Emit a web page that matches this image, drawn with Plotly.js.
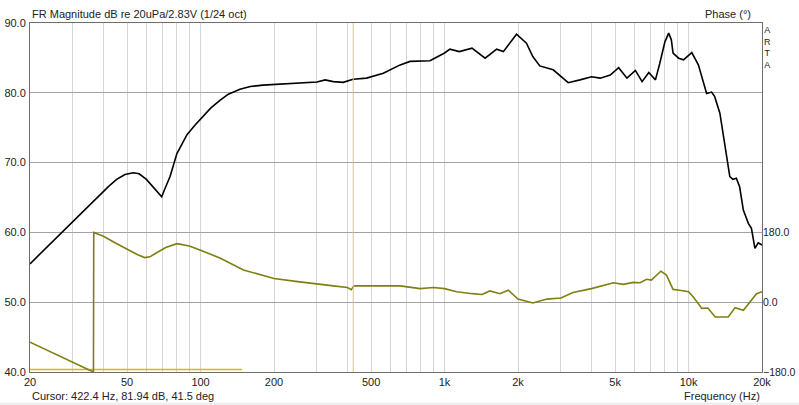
<!DOCTYPE html>
<html>
<head>
<meta charset="utf-8">
<script src="https://cdn.plot.ly/plotly-3.0.1.min.js"></script>
<style>html,body{margin:0;padding:0;background:#fff;}#chart{width:799px;height:405px;}</style>
</head>
<body>
<div id="chart"></div>
<script>
// Magnitude response (dB)
const freqMag = [20,23,26.5,31,35,39,42,45.3,49,53,56,60,64,67,69.3,71.5,75,80,88,95,100,110,120,130,145,160,180,200,256,300,324,350,384,422,479,561,658,722,872,1000,1052,1150,1296,1466,1636,1742,1972,2166,2300,2456,2788,3212,3592,4000,4346,4776,5170,5592,6054,6450,6870,7316,7620,8000,8290,8500,8640,9108,9540,10000,10310,10970,11200,11860,12430,12800,13440,14100,14760,15200,15700,16200,16770,17580,18100,18710,19300,20000];
const magDb   = [55.5,57.6,59.7,62.0,63.9,65.4,66.6,67.6,68.3,68.55,68.4,67.6,66.5,65.6,65.1,66.3,68.0,71.3,74.0,75.4,76.2,77.8,78.9,79.8,80.5,80.9,81.1,81.2,81.4,81.55,81.85,81.6,81.5,81.95,82.1,82.8,84.0,84.5,84.6,85.7,86.25,85.9,86.4,84.95,86.25,85.9,88.4,87.1,85.2,83.85,83.3,81.45,81.85,82.3,82.1,82.55,83.6,82.1,83.2,81.6,82.9,81.85,84.2,87.3,88.55,87.6,85.7,84.96,84.72,85.3,85.77,84.0,82.9,79.9,80.1,79.45,77.07,72.3,68.0,67.6,67.75,66.5,63.2,61.3,60.6,57.7,58.5,58.2];

// Phase response (deg)
const freqPhase = [20,25,30,36.4,36.5,40,45,50,55,59,62,65,72,80,90,100,120,150,200,250,300,350,400,415,425,500,600,658,794,900,1000,1122,1300,1424,1534,1686,1824,2000,2300,2630,3000,3360,4000,4920,5400,5940,6330,6730,7040,7700,8120,8640,9180,10000,10440,11340,12000,12860,14540,15520,16780,17840,19000,20000];
const phaseDeg  = [-103,-131,-155,-180,180,170,152,136,123,115,117,125,141,151,145,134,114,83,61,53,48,42,38,32,42,42,42,42,35,38,35,27,22,20,29,22,31,8,-2,8,11,25,35,50,46,51,50,59,57,80,70,33,31,27,14,-16,-15,-38,-38,-14,-21,0,22,27];

// Marker line (time window) and cursor
const markFreq = [20, 148];
const markDb = [40.35, 40.35];
const cursorFreq = 422.4;

// Axis labels
const xTickVals = [20,50,100,200,500,1000,2000,5000,10000,20000];
const xTickText = ['20','50','100','200','500','1k','2k','5k','10k','20k'];
const xMinorGrid = [30,40,60,70,80,90,300,400,600,700,800,900,3000,4000,6000,7000,8000,9000];
const xMajorGrid = [100,1000,10000];
const yTickVals = [40,50,60,70,80,90];
const y2TickVals = [-180,0,180];

const font = 'Liberation Sans, Arial, sans-serif';

const traces = [
  {x: markFreq, y: markDb, mode: 'lines', line: {color: '#c9c200', width: 1.5}, hoverinfo: 'skip'},
  {x: freqPhase, y: phaseDeg, yaxis: 'y2', mode: 'lines', line: {color: '#7f7f12', width: 1.6}, hoverinfo: 'skip'},
  {x: freqMag, y: magDb, mode: 'lines', line: {color: '#000000', width: 1.6}, hoverinfo: 'skip'}
];

const shapes = xMajorGrid.map(f => ({type: 'line', xref: 'x', yref: 'paper', x0: f, x1: f, y0: 0, y1: 1, layer: 'between', line: {color: '#a3a3a3', width: 1}}));
shapes.push({type: 'line', xref: 'x', yref: 'paper', x0: cursorFreq, x1: cursorFreq, y0: 0, y1: 1, layer: 'above', line: {color: '#d2d25a', width: 1}});
shapes.push({type: 'rect', xref: 'paper', yref: 'paper', x0: -0.05, x1: 1.06, y0: -0.088, y1: -0.097, layer: 'below', fillcolor: '#eeeeee', line: {width: 0}});

const annotations = [
  {text: 'FR Magnitude dB re 20uPa/2.83V (1/24 oct)', xref: 'paper', yref: 'paper', x: 0, y: 1, xanchor: 'left', yanchor: 'bottom', yshift: 1, showarrow: false, font: {family: font, size: 11, color: '#222'}},
  {text: 'Phase (°)', xref: 'paper', yref: 'paper', x: 1, y: 1, xanchor: 'right', yanchor: 'bottom', xshift: -9, yshift: 1, showarrow: false, font: {family: font, size: 11, color: '#222'}},
  {text: 'Cursor: 422.4 Hz, 81.94 dB, 41.5 deg', xref: 'paper', yref: 'paper', x: 0, y: 0, xanchor: 'left', yanchor: 'top', yshift: -16, showarrow: false, font: {family: font, size: 11, color: '#222'}},
  {text: 'Frequency (Hz)', xref: 'paper', yref: 'paper', x: 1, y: 0, xanchor: 'right', yanchor: 'top', yshift: -16, showarrow: false, font: {family: font, size: 11, color: '#222'}},
  {text: 'A<br>R<br>T<br>A', xref: 'paper', yref: 'paper', x: 1, y: 1, xanchor: 'left', yanchor: 'top', xshift: 1, yshift: -1, showarrow: false, borderpad: 0, align: 'center', font: {family: font, size: 9, color: '#222'}}
];

const layout = {
  width: 799, height: 405,
  margin: {l: 30, r: 37, t: 23, b: 33},
  paper_bgcolor: '#ffffff', plot_bgcolor: '#ffffff',
  showlegend: false,
  xaxis: {
    type: 'log', range: [Math.log10(20), Math.log10(20000)],
    tickmode: 'array', tickvals: xTickVals, ticktext: xTickText,
    showgrid: true, gridcolor: '#d6d6d6', gridwidth: 1,
    minor: {tickmode: 'array', tickvals: xMinorGrid, showgrid: true, gridcolor: '#d6d6d6', gridwidth: 1, ticks: ''},
    showline: true, mirror: true, linecolor: '#6e6e6e', linewidth: 1,
    ticks: '', zeroline: false,
    tickfont: {family: font, size: 11, color: '#222'}
  },
  yaxis: {
    range: [40, 90], tickmode: 'array', tickvals: yTickVals, tickformat: '.1f',
    showgrid: true, gridcolor: '#a3a3a3', gridwidth: 1,
    showline: true, mirror: true, linecolor: '#6e6e6e', linewidth: 1,
    ticks: 'outside', ticklen: 1, tickcolor: 'rgba(0,0,0,0)', zeroline: false,
    tickfont: {family: font, size: 11, color: '#222'}
  },
  yaxis2: {
    overlaying: 'y', side: 'right', range: [-180, 720],
    tickmode: 'array', tickvals: y2TickVals, tickformat: '.1f',
    showgrid: false, zeroline: false, showline: false,
    ticks: '',
    tickfont: {family: font, size: 10.5, color: '#222'}
  },
  shapes: shapes,
  annotations: annotations
};

Plotly.newPlot('chart', traces, layout, {displayModeBar: false, staticPlot: true});
</script>
</body>
</html>
